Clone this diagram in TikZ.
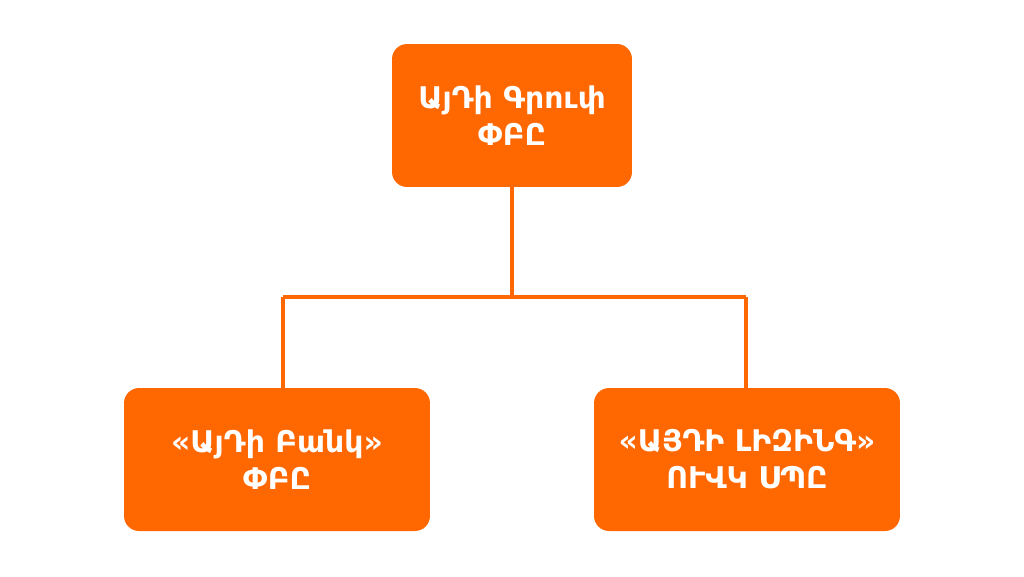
\documentclass[tikz,border=0pt]{standalone}
\usepackage{fontspec}
\setmainfont{DejaVu Sans}
\definecolor{idorange}{RGB}{255,103,0}
\tikzset{
  unit/.style={fill=idorange, rounded corners=0.3cm, text=white, align=center,
    font=\fontsize{17}{21}\selectfont\bfseries, inner sep=0pt},
  link/.style={draw=idorange, line width=1.8pt}
}
\begin{document}
\begin{tikzpicture}[x=0.02cm,y=-0.02cm]
\useasboundingbox (0,0) rectangle (1024,576);
\node[unit, minimum width=4.8cm, minimum height=2.86cm] (group) at (512,115.5) {ԱյԴի Գրուփ\\ՓԲԸ};
\foreach \n/\x/\t in {bank/277/{«ԱյԴի Բանկ»\\ՓԲԸ}, leasing/747/{«ԱՅԴԻ ԼԻԶԻՆԳ»\\ՈՒՎԿ ՍՊԸ}}
    \node[unit, minimum width=6.12cm, minimum height=2.86cm] (\n) at (\x,459.5) {\t};
\coordinate (fork) at (512,297);
\coordinate (bankin) at (283,297);
\coordinate (leasein) at (746,297);
\draw[link] (group) -- (fork);
\draw[link] (bankin) -- (leasein);
\draw[link] (bankin) -- (bank.north -| bankin);
\draw[link] (leasein) -- (leasing.north -| leasein);
\end{tikzpicture}
\end{document}
